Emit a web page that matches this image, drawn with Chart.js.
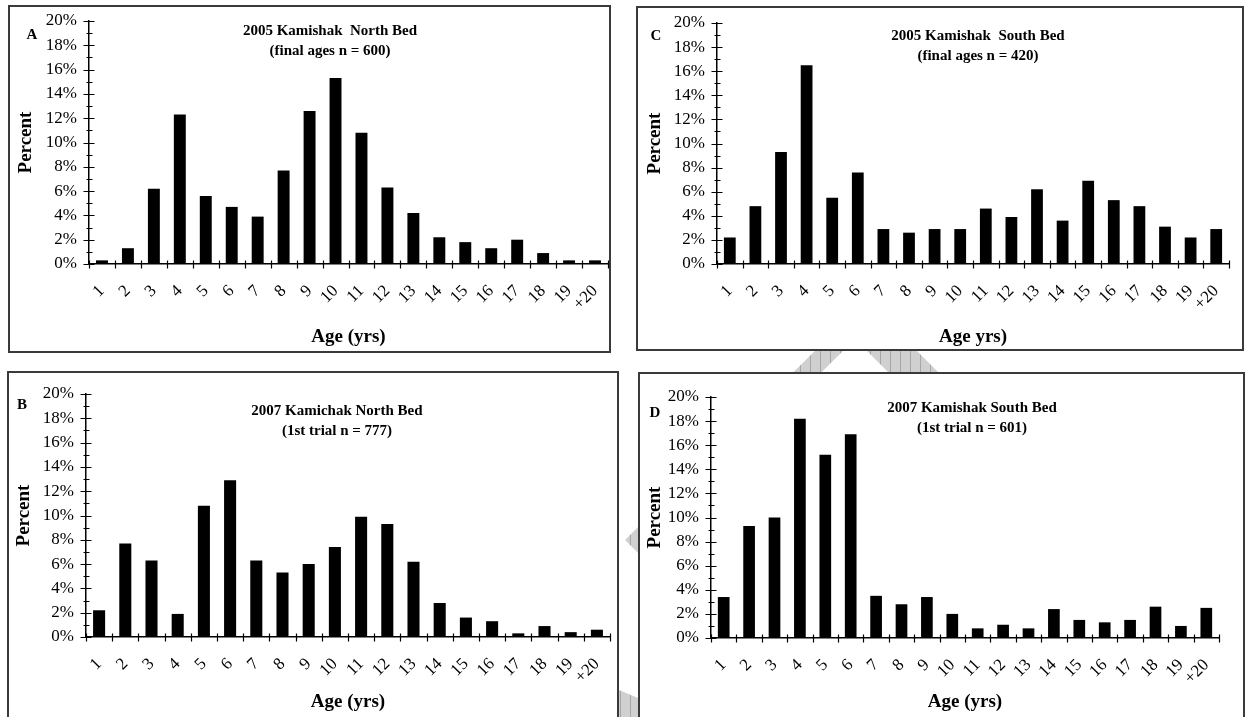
<!DOCTYPE html>
<html>
<head>
<meta charset="utf-8">
<script src="https://cdn.jsdelivr.net/npm/chart.js@4.4.0/dist/chart.umd.min.js"></script>
<style>
body { margin: 0; width: 1245px; height: 717px; overflow: hidden; position: relative; background: #fff;
       font-family: "Liberation Serif", "Times New Roman", serif; color: #000; }
.box { position: absolute; border: 2px solid #3a3a3a; background: #fff; box-sizing: border-box; }
.wrap { position: absolute; }
.wrap canvas { position: absolute; left: 0; top: 0; }
.title { position: absolute; font-weight: bold; font-size: 15px; line-height: 20px; text-align: center;
         white-space: pre; transform: translateX(-50%); }
.letter { position: absolute; font-weight: bold; font-size: 15px; transform: translate(-50%, -50%); }
#mark { position: absolute; left: 0; top: 0; }
</style>
</head>
<body>
<svg id="mark" width="1245" height="717">
  <defs>
    <pattern id="hatch" width="10" height="10" patternUnits="userSpaceOnUse">
      <rect width="10" height="10" fill="#d0d0d0"/>
      <line x1="0.5" y1="0" x2="0.5" y2="10" stroke="#a6a6a6" stroke-width="1"/>
    </pattern>
  </defs>
  <!-- faint watermark showing through the gaps between panels -->
  <path fill="url(#hatch)" fill-rule="evenodd"
        d="M866 300 L1106 540 L866 780 L625 540 Z M855 339 L1050 534 L855 760 L653 540 Z"/>
  <path fill="url(#hatch)" d="M619 690 L638 698 L638 717 L619 717 Z"/>
</svg>

<script>
// age classes shared by all four panels
const ages = ['1', '2', '3', '4', '5', '6', '7', '8', '9', '10',
              '11', '12', '13', '14', '15', '16', '17', '18', '19', '+20'];

// percent of fish in each age class
const north2005 = [0.3, 1.3, 6.2, 12.3, 5.6, 4.7, 3.9, 7.7, 12.6, 15.3,
                   10.8, 6.3, 4.2, 2.2, 1.8, 1.3, 2.0, 0.9, 0.3, 0.3];
const south2005 = [2.2, 4.8, 9.3, 16.5, 5.5, 7.6, 2.9, 2.6, 2.9, 2.9,
                   4.6, 3.9, 6.2, 3.6, 6.9, 5.3, 4.8, 3.1, 2.2, 2.9];
const north2007 = [2.2, 7.7, 6.3, 1.9, 10.8, 12.9, 6.3, 5.3, 6.0, 7.4,
                   9.9, 9.3, 6.2, 2.8, 1.6, 1.3, 0.3, 0.9, 0.4, 0.6];
const south2007 = [3.4, 9.3, 10.0, 18.2, 15.2, 16.9, 3.5, 2.8, 3.4, 2.0,
                   0.8, 1.1, 0.8, 2.4, 1.5, 1.3, 1.5, 2.6, 1.0, 2.5];

// y axis: 0..20 %, labels every 2
const yMin = 0;
const yMax = 20;
const yStep = 2;

const FONT = '"Liberation Serif", "Times New Roman", serif';
Chart.defaults.font.family = FONT;
Chart.defaults.color = '#000';

// layout of each panel (page pixels)
const panels = [
  { letter: 'A', data: north2005, box: [8, 5, 603, 348], plot: [89, 21, 608, 264],
    title: ['2005 Kamishak  North Bed', '(final ages n = 600)'], titleX: 330, titleY: 20,
    letterX: 32, letterY: 34, xTitle: 'Age (yrs)', xTitleY: 337, yTitleX: 26 },
  { letter: 'C', data: south2005, box: [636, 6, 608, 345], plot: [717, 23, 1229, 264],
    title: ['2005 Kamishak  South Bed', '(final ages n = 420)'], titleX: 978, titleY: 25,
    letterX: 656, letterY: 35, xTitle: 'Age yrs)', xTitleY: 337, yTitleX: 655 },
  { letter: 'B', data: north2007, box: [7, 371, 612, 346], plot: [86, 394, 610, 637],
    title: ['2007 Kamichak North Bed', '(1st trial n = 777)'], titleX: 337, titleY: 400,
    letterX: 22, letterY: 404, xTitle: 'Age (yrs)', xTitleY: 702, yTitleX: 24 },
  { letter: 'D', data: south2007, box: [638, 372, 607, 345], plot: [711, 397, 1219, 638],
    title: ['2007 Kamishak South Bed', '(1st trial n = 601)'], titleX: 972, titleY: 397,
    letterX: 655, letterY: 412, xTitle: 'Age (yrs)', xTitleY: 702, yTitleX: 655 }
];

// Excel style tick marks: x ticks between categories, y major/minor ticks crossing the axis
const tickMarks = {
  id: 'tickMarks',
  afterDraw(chart) {
    const { ctx, scales: { x, y } } = chart;
    const y0 = Math.round(y.getPixelForValue(yMin)) + 0.5;
    const ax = Math.round(x.left) + 0.5;
    ctx.save();
    ctx.strokeStyle = '#000';
    ctx.lineWidth = 1.2;
    ctx.beginPath();
    for (let i = 0; i <= ages.length; i++) {
      const px = Math.round(x.getPixelForValue(i - 0.5)) + 0.5;
      ctx.moveTo(px, y0 - 4);
      ctx.lineTo(px, y0 + 4);
    }
    for (let v = yMin; v <= yMax; v++) {
      const py = Math.round(y.getPixelForValue(v)) + 0.5;
      const major = v % yStep === 0;
      ctx.moveTo(ax - (major ? 6 : 3), py);
      ctx.lineTo(ax + (major ? 5 : 3), py);
    }
    ctx.stroke();
    ctx.restore();
  }
};

panels.forEach(p => {
  const [bx, by, bw, bh] = p.box;
  const [pl, pt, pr, pb] = p.plot;

  const box = document.createElement('div');
  box.className = 'box';
  box.style.cssText = `left:${bx}px;top:${by}px;width:${bw}px;height:${bh + (by > 300 ? 60 : 0)}px;`;
  document.body.appendChild(box);

  const wrap = document.createElement('div');
  wrap.className = 'wrap';
  wrap.style.cssText = `left:${bx}px;top:${by}px;width:${bw}px;height:${bh}px;`;
  const canvas = document.createElement('canvas');
  canvas.width = bw;
  canvas.height = bh;
  wrap.appendChild(canvas);
  document.body.appendChild(wrap);

  const title = document.createElement('div');
  title.className = 'title';
  title.style.cssText = `left:${p.titleX}px;top:${p.titleY}px;`;
  title.textContent = p.title.join('\n');
  document.body.appendChild(title);

  const letter = document.createElement('div');
  letter.className = 'letter';
  letter.style.cssText = `left:${p.letterX}px;top:${p.letterY}px;`;
  letter.textContent = p.letter;
  document.body.appendChild(letter);

  const axisTitleSize = 19;
  const half = axisTitleSize * 1.2 / 2;

  new Chart(canvas, {
    type: 'bar',
    data: {
      labels: ages,
      datasets: [{
        data: p.data,
        backgroundColor: '#000',
        borderWidth: 0,
        barPercentage: 0.46,
        categoryPercentage: 1.0
      }]
    },
    options: {
      responsive: false,
      animation: false,
      layout: { padding: { left: 0, top: pt - by, right: bx + bw - pr, bottom: 0 } },
      plugins: { legend: { display: false }, tooltip: { enabled: false } },
      scales: {
        x: {
          grid: { display: false, drawTicks: false },
          border: { display: true, color: '#000', width: 1.5 },
          ticks: {
            autoSkip: false, minRotation: 45, maxRotation: 45, padding: 17,
            color: '#000', font: { size: 17 }
          },
          title: {
            display: true, text: p.xTitle, color: '#000',
            font: { size: axisTitleSize, weight: 'bold' },
            padding: { top: 0, bottom: Math.max(0, bh - (p.xTitleY - by) - half) }
          },
          afterFit(s) {
            s.height = bh - (pb - by);
            s.paddingLeft = 0;
            s.paddingRight = 0;
          }
        },
        y: {
          min: yMin, max: yMax,
          grid: { display: false, drawTicks: false },
          border: { display: true, color: '#000', width: 1.5 },
          ticks: {
            stepSize: yStep, padding: 12, color: '#000', font: { size: 17 },
            callback: v => v + '%'
          },
          title: {
            display: true, text: 'Percent', color: '#000',
            font: { size: axisTitleSize, weight: 'bold' },
            padding: { top: Math.max(0, p.yTitleX - bx - half), bottom: 0 }
          },
          afterFit(s) {
            s.width = pl - bx;
            s.paddingTop = 0;
            s.paddingBottom = 0;
          }
        }
      }
    },
    plugins: [tickMarks]
  });
});
</script>
</body>
</html>
